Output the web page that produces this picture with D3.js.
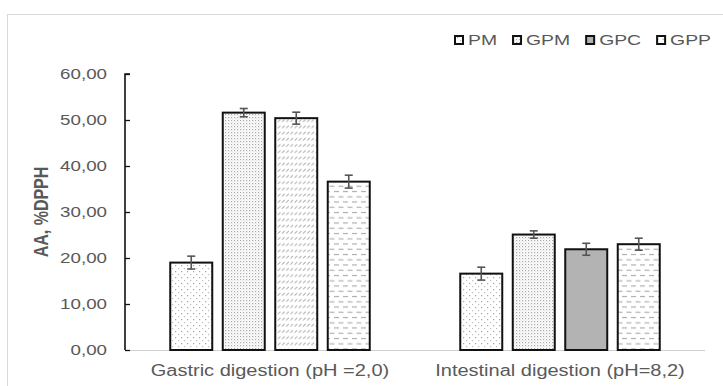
<!DOCTYPE html>
<html>
<head>
<meta charset="utf-8">
<script src="https://cdn.jsdelivr.net/npm/d3@7"></script>
<style>
  html, body { margin: 0; padding: 0; background: #fff; }
  svg { display: block; font-family: "Liberation Sans", Arial, sans-serif; }
</style>
</head>
<body>
<svg id="chart" width="723" height="386"></svg>
<script>
// ---- data ----
const categories = ["Gastric digestion (pH =2,0)", "Intestinal digestion (pH=8,2)"];
const seriesNames = ["PM", "GPM", "GPC", "GPP"];
const valuesPM  = [19.0, 16.6];
const valuesGPM = [51.6, 25.1];
const valuesGPC = [50.4, 21.9];
const valuesGPP = [36.6, 23.0];
const errorsPM  = [1.4, 1.4];
const errorsGPM = [0.9, 0.8];
const errorsGPC = [1.3, 1.3];
const errorsGPP = [1.4, 1.3];
const yTicks = [0, 10, 20, 30, 40, 50, 60];
const yTitle = "AA, %DPPH";

const seriesValues = [valuesPM, valuesGPM, valuesGPC, valuesGPP];
const seriesErrors = [errorsPM, errorsGPM, errorsGPC, errorsGPP];

// ---- layout ----
const svg = d3.select("#chart");
const plot = { left: 125, right: 705, top: 74, bottom: 350 };
const SX = 1.25;          // horizontal text stretch
const textGray = "#595959";

const x0 = d3.scaleBand().domain(categories).range([plot.left, plot.right]).padding(0);
const x1 = d3.scaleBand().domain(seriesNames).range([0, x0.bandwidth()])
  .paddingInner(0.2).paddingOuter(0.862);
const y = d3.scaleLinear().domain([0, 60]).range([plot.bottom, plot.top]);

// ---- fill patterns ----
const defs = svg.append("defs");

function pattern(id, w, h) {
  const p = defs.append("pattern").attr("id", id).attr("patternUnits", "userSpaceOnUse")
    .attr("width", w).attr("height", h);
  p.append("rect").attr("width", w).attr("height", h).attr("fill", "#fff");
  return p;
}
// sparse dots
{
  const p = pattern("pSparse", 6, 6);
  p.append("rect").attr("x", 1).attr("y", 1).attr("width", 1.2).attr("height", 1.2).attr("fill", "#a5a5a5");
  p.append("rect").attr("x", 4).attr("y", 4).attr("width", 1.2).attr("height", 1.2).attr("fill", "#c0c0c0");
}
// dense dots
{
  const p = pattern("pDense", 3, 3);
  p.append("rect").attr("x", 0).attr("y", 0).attr("width", 1.2).attr("height", 1.2).attr("fill", "#a8a8a8");
  p.append("rect").attr("x", 1.5).attr("y", 1.5).attr("width", 1).attr("height", 1).attr("fill", "#cfcfcf");
}
// short diagonal strokes
{
  const p = pattern("pDiag", 4.2, 6.2);
  p.append("line").attr("x1", 0.6).attr("y1", 4.2).attr("x2", 3.2).attr("y2", 1.6)
    .attr("stroke", "#a0a0a0").attr("stroke-width", 0.9);
}
// horizontal dashes
{
  const p = pattern("pDash", 9, 10.5);
  p.append("line").attr("x1", 1).attr("y1", 2.5).attr("x2", 6).attr("y2", 2.5)
    .attr("stroke", "#a0a0a0").attr("stroke-width", 1);
  p.append("line").attr("x1", 5.5).attr("y1", 7.8).attr("x2", 10.5).attr("y2", 7.8)
    .attr("stroke", "#a0a0a0").attr("stroke-width", 1);
  p.append("line").attr("x1", -3.5).attr("y1", 7.8).attr("x2", 1.5).attr("y2", 7.8)
    .attr("stroke", "#a0a0a0").attr("stroke-width", 1);
}

const seriesFill = {
  PM: "url(#pSparse)",
  GPM: "url(#pDense)",
  GPC: "#b3b3b3",
  GPP: "url(#pDash)"
};
// the gastric GPC bar is hatched rather than solid
function barFill(s, ci) {
  if (s === "GPC" && ci === 0) return "url(#pDiag)";
  return seriesFill[s];
}

// ---- outer frame ----
svg.append("rect").attr("x", 7.5).attr("y", 14.5).attr("width", 800).attr("height", 500)
  .attr("fill", "none").attr("stroke", "#d9d9d9").attr("stroke-width", 1);

// stretched text helper
function stretchedText(g, xPos, yPos, txt, opts) {
  const t = g.append("text")
    .attr("transform", `translate(${xPos},${yPos}) scale(${SX},1)`)
    .attr("text-anchor", opts.anchor || "start")
    .attr("font-size", opts.size)
    .attr("font-weight", opts.weight || "normal")
    .attr("fill", opts.fill || textGray)
    .text(txt);
  if (opts.dy) t.attr("dy", opts.dy);
  return t;
}

// ---- x baseline ----
svg.append("line").attr("x1", plot.left).attr("x2", plot.right)
  .attr("y1", plot.bottom + 0.5).attr("y2", plot.bottom + 0.5)
  .attr("stroke", "#d0d0d0").attr("stroke-width", 1);

// ---- bars ----
const data = [];
categories.forEach((c, ci) => {
  seriesNames.forEach((s, si) => {
    data.push({ c, ci, s, v: seriesValues[si][ci], e: seriesErrors[si][ci] });
  });
});

const bars = svg.append("g");
bars.selectAll("rect").data(data).join("rect")
  .attr("x", d => x0(d.c) + x1(d.s))
  .attr("y", d => y(d.v))
  .attr("width", x1.bandwidth())
  .attr("height", d => y(0) - y(d.v))
  .attr("fill", d => barFill(d.s, d.ci))
  .attr("stroke", "#111")
  .attr("stroke-width", 2);

// ---- error bars ----
const eb = svg.append("g").attr("stroke", "#555").attr("stroke-width", 1.6);
data.forEach(d => {
  const cx = x0(d.c) + x1(d.s) + x1.bandwidth() / 2;
  const yt = y(d.v + d.e), yb = y(d.v - d.e);
  eb.append("line").attr("x1", cx).attr("x2", cx).attr("y1", yt).attr("y2", yb);
  eb.append("line").attr("x1", cx - 4).attr("x2", cx + 4).attr("y1", yt).attr("y2", yt);
  eb.append("line").attr("x1", cx - 4).attr("x2", cx + 4).attr("y1", yb).attr("y2", yb);
});

// ---- y axis ----
const yAxis = d3.axisRight(y).tickValues(yTicks).tickSize(5).tickFormat("");
const ya = svg.append("g").attr("transform", `translate(${plot.left},0)`).call(yAxis);
ya.select(".domain").attr("stroke", "#111").attr("stroke-width", 1.6)
  .attr("d", `M5,${plot.top}H0V${plot.bottom}`);
ya.selectAll(".tick line").attr("stroke", "#111").attr("stroke-width", 1.3);

const fmt = v => d3.format(".2f")(v).replace(".", ",");
const yLabels = svg.append("g");
yTicks.forEach(t => {
  stretchedText(yLabels, 107, y(t), fmt(t), { anchor: "end", size: 15, dy: "0.36em" });
});

// y title
svg.append("text")
  .attr("transform", `translate(41,212) scale(${SX},1) rotate(-90)`)
  .attr("text-anchor", "middle")
  .attr("dy", "0.36em")
  .attr("font-size", 16)
  .attr("font-weight", "bold")
  .attr("fill", textGray)
  .text(yTitle);

// ---- category labels ----
const xl = svg.append("g");
categories.forEach(c => {
  stretchedText(xl, x0(c) + x0.bandwidth() / 2, 376, c, { anchor: "middle", size: 16 });
});

// ---- legend ----
const lg = svg.append("g");
let lx = 455;
seriesNames.forEach(s => {
  lg.append("rect").attr("x", lx).attr("y", 36).attr("width", 8).attr("height", 8)
    .attr("fill", seriesFill[s]).attr("stroke", "#111").attr("stroke-width", 2);
  const t = stretchedText(lg, lx + 13, 45, s, { size: 15.5 });
  const w = t.node().getComputedTextLength() * SX;
  lx = lx + 13 + w + 16;
});
</script>
</body>
</html>
